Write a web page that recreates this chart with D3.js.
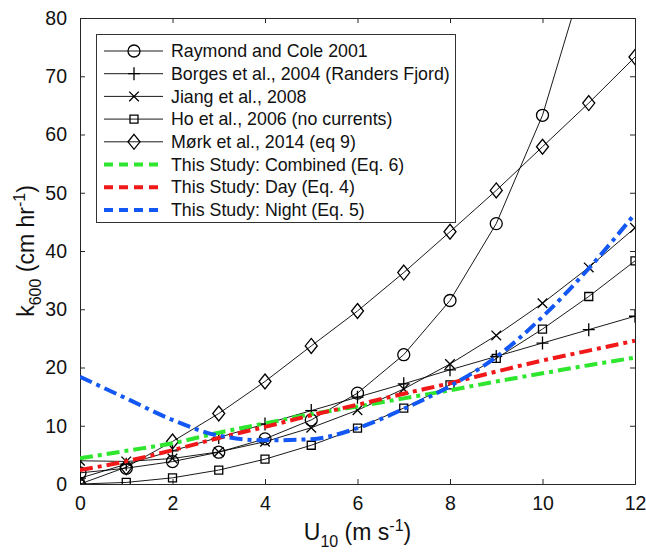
<!DOCTYPE html>
<html>
<head>
<meta charset="utf-8">
<script src="https://cdn.jsdelivr.net/npm/d3@7"></script>
<style>
  html, body { margin: 0; padding: 0; background: #fff; }
  svg { display: block; font-family: "Liberation Sans", Arial, Helvetica, sans-serif; }
</style>
</head>
<body>
<svg id="chart" width="646" height="556"></svg>
<script>
// ---------------- data ----------------
const u10 = [0, 1, 2, 3, 4, 5, 6, 7, 8, 9, 10, 11, 12];
const raymondCole = [1.91, 2.71, 3.85, 5.46, 7.75, 11.0, 15.6, 22.2, 31.5, 44.7, 63.3, 89.8, 127.4];
const borges = [1.0, 3.4, 5.7, 8.0, 10.3, 12.6, 14.9, 17.2, 19.6, 21.9, 24.2, 26.5, 28.8];
const jiang = [3.99, 3.87, 4.38, 5.51, 7.26, 9.66, 12.67, 16.32, 20.60, 25.51, 31.03, 37.18, 43.98];
const ho = [0.0, 0.27, 1.06, 2.39, 4.26, 6.65, 9.58, 13.03, 17.02, 21.55, 26.60, 32.19, 38.30];
const mork = [0.0, 2.9, 7.3, 12.1, 17.6, 23.7, 29.7, 36.3, 43.3, 50.4, 57.9, 65.4, 73.3];
const combined = [4.4, 5.7, 7.0, 8.8, 10.4, 12.0, 13.3, 14.7, 16.1, 17.6, 19.0, 20.4, 21.7];
const day = [2.4, 3.9, 5.8, 7.9, 9.8, 11.8, 13.6, 15.5, 17.3, 19.3, 21.2, 22.9, 24.6];
const night = [18.4, 14.7, 11.0, 8.3, 7.5, 7.7, 9.6, 12.9, 16.8, 21.8, 28.7, 37.0, 46.4];

const xTicks = [0, 2, 4, 6, 8, 10, 12];
const yTicks = [0, 10, 20, 30, 40, 50, 60, 70, 80];

const seriesNames = [
  "Raymond and Cole 2001",
  "Borges et al., 2004 (Randers Fjord)",
  "Jiang et al., 2008",
  "Ho et al., 2006 (no currents)",
  "Mørk et al., 2014 (eq 9)",
  "This Study: Combined (Eq. 6)",
  "This Study: Day (Eq. 4)",
  "This Study: Night (Eq. 5)"
];
const seriesValues = [raymondCole, borges, jiang, ho, mork, combined, day, night];
const seriesMarkers = ["circle", "plus", "cross", "square", "diamond", null, null, null];
const seriesColors = ["#000", "#000", "#000", "#000", "#000", "#2ee62e", "#f01818", "#1358f5"];

// ---------------- layout ----------------
const L = 80, R = 635, T = 18, B = 484;
const x = d3.scaleLinear().domain([0, 12]).range([L, R]);
const y = d3.scaleLinear().domain([0, 80]).range([B, T]);

const svg = d3.select("#chart");
const axisColor = "#262626";

svg.append("defs").append("clipPath").attr("id", "plotClip")
  .append("rect").attr("x", L).attr("y", T).attr("width", R - L).attr("height", B - T);

function markerPath(type) {
  switch (type) {
    case "circle": return d3.symbol().type(d3.symbolCircle).size(Math.PI * 36)();
    case "plus": return "M-6,0L6,0M0,-6.5L0,6.5";
    case "cross": return "M-4.8,-4.8L4.8,4.8M-4.8,4.8L4.8,-4.8";
    case "square": return "M-4,-4L4,-4L4,4L-4,4Z";
    case "diamond": return "M0,-7.5L6,0L0,7.5L-6,0Z";
  }
  return null;
}

// axes box with inward ticks
const axes = svg.append("g");
const xAxisB = d3.axisBottom(x).tickValues(xTicks).tickSize(-5).tickPadding(12).tickFormat(d3.format("d"));
const xAxisT = d3.axisTop(x).tickValues(xTicks).tickSize(-5).tickFormat("");
const yAxisL = d3.axisLeft(y).tickValues(yTicks).tickSize(-5).tickPadding(13).tickFormat(d3.format("d"));
const yAxisR = d3.axisRight(y).tickValues(yTicks).tickSize(-5).tickFormat("");

axes.append("g").attr("transform", `translate(0,${B})`).call(xAxisB);
axes.append("g").attr("transform", `translate(0,${T})`).call(xAxisT);
axes.append("g").attr("transform", `translate(${L},0)`).call(yAxisL);
axes.append("g").attr("transform", `translate(${R},0)`).call(yAxisR);
axes.selectAll(".domain").attr("stroke", axisColor).attr("stroke-width", 1);
axes.selectAll(".tick line").attr("stroke", axisColor).attr("stroke-width", 1);
axes.selectAll(".tick text").attr("fill", "#111").style("font-size", "19.5px")
  .style("font-family", '"Liberation Sans", Arial, sans-serif');

// plot series
const plot = svg.append("g").attr("clip-path", "url(#plotClip)");
const dashPattern = "13,5,4,5";

seriesValues.forEach((vals, i) => {
  const pts = u10.map((u, j) => [u, vals[j]]);
  const isStudy = seriesMarkers[i] === null;
  const line = d3.line().x(d => x(d[0])).y(d => y(d[1]))
    .curve(isStudy ? d3.curveMonotoneX : d3.curveLinear);
  plot.append("path").datum(pts)
    .attr("d", line)
    .attr("fill", "none")
    .attr("stroke", seriesColors[i])
    .attr("stroke-width", isStudy ? 4 : 0.9)
    .attr("stroke-dasharray", isStudy ? dashPattern : null);
  if (!isStudy) {
    plot.append("g").selectAll("path").data(pts).join("path")
      .attr("transform", d => `translate(${x(d[0])},${y(d[1])})`)
      .attr("d", markerPath(seriesMarkers[i]))
      .attr("fill", "none")
      .attr("stroke", "#000")
      .attr("stroke-width", 1.3);
  }
});

// axis titles
const xt = svg.append("text").attr("x", (L + R) / 2).attr("y", 540)
  .attr("text-anchor", "middle").style("font-size", "23px").attr("fill", "#111");
xt.append("tspan").text("U");
xt.append("tspan").attr("dy", 7).style("font-size", "16px").text("10");
xt.append("tspan").attr("dy", -7).text(" (m s");
xt.append("tspan").attr("dy", -9).style("font-size", "16px").text("-1");
xt.append("tspan").attr("dy", 9).text(")");

const yt = svg.append("text")
  .attr("transform", `translate(34,${(T + B) / 2}) rotate(-90)`)
  .attr("text-anchor", "middle").style("font-size", "23px").attr("fill", "#111");
yt.append("tspan").text("k");
yt.append("tspan").attr("dy", 7).style("font-size", "16px").text("600");
yt.append("tspan").attr("dy", -7).text(" (cm hr");
yt.append("tspan").attr("dy", -9).style("font-size", "16px").text("-1");
yt.append("tspan").attr("dy", 9).text(")");

// legend
const lg = svg.append("g");
lg.append("rect").attr("x", 96.5).attr("y", 34.5).attr("width", 359).attr("height", 188)
  .attr("fill", "#fff").attr("stroke", "#333").attr("stroke-width", 1);
seriesNames.forEach((name, i) => {
  const ry = 51 + i * 22.7;
  const isStudy = seriesMarkers[i] === null;
  lg.append("line").attr("x1", 104).attr("x2", 163).attr("y1", ry).attr("y2", ry)
    .attr("stroke", seriesColors[i])
    .attr("stroke-width", isStudy ? 4 : 0.9)
    .attr("stroke-dasharray", isStudy ? "9,6" : null);
  if (!isStudy) {
    lg.append("path").attr("transform", `translate(134,${ry})`)
      .attr("d", markerPath(seriesMarkers[i]))
      .attr("fill", "none").attr("stroke", "#000").attr("stroke-width", 1.3);
  }
  lg.append("text").attr("x", 171).attr("y", ry).attr("dy", "0.35em")
    .style("font-size", "17.8px").attr("fill", "#111").text(name);
});
</script>
</body>
</html>
